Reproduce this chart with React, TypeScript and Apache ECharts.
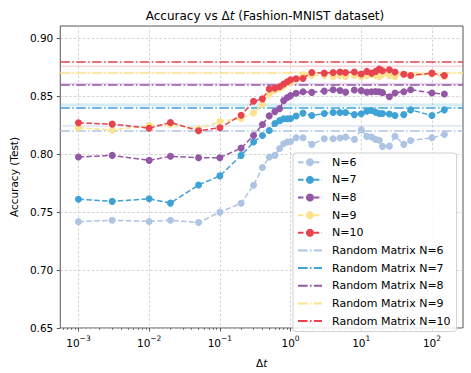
import React, { useEffect, useRef } from "react";
import * as echarts from "echarts";

const xValues = [0.001, 0.003, 0.01, 0.02, 0.05, 0.1, 0.2, 0.3, 0.4, 0.5, 0.6, 0.7, 0.8, 0.9, 1, 1.2, 1.5, 2, 3, 4, 5, 6, 8, 10, 12, 14, 16, 18, 20, 25, 30, 40, 50, 100, 150];

const accN6 = [0.7418, 0.743, 0.742, 0.743, 0.741, 0.75, 0.7577, 0.7733, 0.7885, 0.7976, 0.799, 0.805, 0.809, 0.8105, 0.811, 0.8142, 0.8142, 0.8085, 0.8134, 0.8134, 0.814, 0.8148, 0.8128, 0.8211, 0.8154, 0.8148, 0.8128, 0.812, 0.8068, 0.807, 0.8156, 0.8085, 0.8119, 0.8142, 0.8171];
const accN7 = [0.7612, 0.7593, 0.7615, 0.7578, 0.7735, 0.7813, 0.799, 0.8105, 0.8162, 0.8205, 0.8265, 0.829, 0.8306, 0.8306, 0.8308, 0.833, 0.8355, 0.8334, 0.8351, 0.836, 0.836, 0.836, 0.8342, 0.8349, 0.8371, 0.8377, 0.8362, 0.8351, 0.8351, 0.8347, 0.8334, 0.8342, 0.8383, 0.8334, 0.8383];
const accN8 = [0.7976, 0.799, 0.7947, 0.7982, 0.797, 0.797, 0.8053, 0.8162, 0.8257, 0.8331, 0.8368, 0.8394, 0.8463, 0.8489, 0.8506, 0.8527, 0.854, 0.8534, 0.8545, 0.8557, 0.855, 0.8536, 0.8555, 0.8549, 0.8536, 0.854, 0.8542, 0.854, 0.8532, 0.8497, 0.8529, 0.854, 0.8557, 0.8529, 0.852];
const accN9 = [0.8228, 0.821, 0.8247, 0.8257, 0.822, 0.8282, 0.8308, 0.8357, 0.843, 0.852, 0.855, 0.857, 0.859, 0.862, 0.862, 0.865, 0.8685, 0.868, 0.868, 0.867, 0.868, 0.867, 0.868, 0.867, 0.868, 0.869, 0.868, 0.867, 0.869, 0.868, 0.867, 0.869, 0.868, 0.869, 0.867];
const accN10 = [0.8271, 0.826, 0.8225, 0.8274, 0.8203, 0.8228, 0.8337, 0.8457, 0.8478, 0.8563, 0.857, 0.8583, 0.8606, 0.8626, 0.8643, 0.8652, 0.8654, 0.8706, 0.87, 0.8705, 0.871, 0.8706, 0.871, 0.8692, 0.8715, 0.87, 0.8715, 0.8735, 0.872, 0.873, 0.871, 0.869, 0.868, 0.87, 0.868];

const seriesNames = ["N=6", "N=7", "N=8", "N=9", "N=10"];
const randomNames = ["Random Matrix N=6", "Random Matrix N=7", "Random Matrix N=8", "Random Matrix N=9", "Random Matrix N=10"];
const randomMean = [0.8245, 0.8426, 0.8606, 0.8703, 0.876];
const randomStd = [0.0009, 0.0013, 0.0011, 0.0009, 0.0007];

const xMajorTicks = [0.001, 0.01, 0.1, 1, 10, 100];
const xMinorTicks = [0.0006, 0.0007, 0.0008, 0.0009, 0.002, 0.003, 0.004, 0.005, 0.006, 0.007, 0.008, 0.009, 0.02, 0.03, 0.04, 0.05, 0.06, 0.07, 0.08, 0.09, 0.2, 0.3, 0.4, 0.5, 0.6, 0.7, 0.8, 0.9, 2, 3, 4, 5, 6, 7, 8, 9, 20, 30, 40, 50, 60, 70, 80, 90, 200];
const yTicks = [0.65, 0.7, 0.75, 0.8, 0.85, 0.9];

const colors = ["#adc4e2", "#3fa2d6", "#9457a6", "#fde18c", "#e8434f"];
const bandColors = ["rgba(173,196,226,0.3)", "rgba(63,162,214,0.22)", "rgba(148,87,166,0.22)", "rgba(253,225,140,0.3)", "rgba(232,67,79,0.22)"];

const allAcc = [accN6, accN7, accN8, accN9, accN10];

const FONT = "DejaVu Sans";
const X_MIN = 0.000553;
const X_MAX = 275;
const Y_MIN = 0.65;
const Y_MAX = 0.9107;

const supMap: Record<string, string> = { "-": "−" };

function xLabel(v: number) {
  const e = Math.log10(v);
  const r = Math.round(e);
  if (Math.abs(e - r) > 1e-6) return "";
  const s = String(r).split("").map((c) => supMap[c] || c).join("");
  return `{b|10}{s|${s}}`;
}

export default function App() {
  const ref = useRef<HTMLDivElement>(null);
  useEffect(() => {
    if (!ref.current) return;
    const chart = echarts.init(ref.current, null, { renderer: "svg" });
    const dataSeries = seriesNames.map((name, i) => ({
      name,
      type: "line",
      xAxisIndex: 0,
      data: xValues.map((x, j) => [x, allAcc[i][j]]),
      symbol: "circle",
      symbolSize: 7,
      showSymbol: true,
      z: 3 + i,
      lineStyle: { color: colors[i], width: 1.5, type: [5.5, 2.4] },
      itemStyle: { color: colors[i], borderWidth: 0 },
      emphasis: { disabled: true },
    }));
    const randomSeries = randomNames.map((name, i) => ({
      name,
      type: "line",
      xAxisIndex: 0,
      data: [],
      symbol: "none",
      z: 2,
      lineStyle: { color: colors[i], width: 1.5, type: [9.6, 2.4, 1.5, 2.4] },
      itemStyle: { color: colors[i], opacity: 0 },
      markLine: {
        silent: true,
        symbol: ["none", "none"],
        label: { show: false },
        lineStyle: { color: colors[i], width: 1.5, type: [9.6, 2.4, 1.5, 2.4], opacity: 1 },
        data: [{ yAxis: randomMean[i] }],
        z: 2,
      },
      markArea: {
        silent: true,
        itemStyle: { color: bandColors[i], opacity: 1 },
        data: [[{ yAxis: randomMean[i] - randomStd[i] }, { yAxis: randomMean[i] + randomStd[i] }]],
      },
    }));
    chart.setOption({
      animation: false,
      title: {
        text: "{n|Accuracy vs Δ}{i|t}{n| (Fashion-MNIST dataset)}",
        left: 260,
        textAlign: "center",
        top: 5,
        textStyle: {
          fontWeight: "normal",
          rich: {
            n: { fontFamily: FONT, fontSize: 12, fontWeight: "normal", color: "#000" },
            i: { fontFamily: FONT, fontSize: 12, fontWeight: "normal", fontStyle: "italic", color: "#000" },
          },
        },
      },
      grid: {
        left: 57,
        right: 8,
        top: 26,
        bottom: 44.5,
        show: true,
        borderColor: "#555",
        borderWidth: 1,
        backgroundColor: "transparent",
      },
      legend: {
        orient: "vertical",
        left: 293,
        top: 153,
        data: [
          ...seriesNames,
          ...randomNames.map((n) => ({ name: n, itemStyle: { opacity: 0 } })),
        ],
        itemWidth: 24,
        itemHeight: 10,
        itemGap: 6.65,
        padding: [3.7, 6, 5, 4],
        backgroundColor: "rgba(255,255,255,0.85)",
        borderColor: "#d0d0d0",
        borderWidth: 1,
        borderRadius: 3,
        textStyle: { fontFamily: FONT, fontSize: 11, color: "#000", padding: [0, 0, 0, 5] },
        selectedMode: false,
      },
      xAxis: [
        {
          type: "log",
          logBase: 10,
          min: X_MIN,
          max: X_MAX,
          name: "{n|Δ}{i|t}",
          nameLocation: "middle",
          nameGap: 29,
          nameTextStyle: {
            rich: {
              n: { fontFamily: FONT, fontSize: 10.5, color: "#000" },
              i: { fontFamily: FONT, fontSize: 10.5, fontStyle: "italic", color: "#000" },
            },
          },
          axisLine: { show: false },
          axisTick: { show: true, length: 3.5, customValues: xMajorTicks, lineStyle: { color: "#333", width: 0.8 } },
          axisLabel: {
            customValues: xMajorTicks,
            formatter: (v: number) => xLabel(v),
            margin: 6,
            rich: {
              b: { fontFamily: FONT, fontSize: 10.5, color: "#000", verticalAlign: "bottom", lineHeight: 14 },
              s: { fontFamily: FONT, fontSize: 7.5, color: "#000", verticalAlign: "top", lineHeight: 14, padding: [0, 0, 6, 0] },
            },
          },
          splitLine: { show: true, lineStyle: { color: "#c8c8c8", width: 0.8, type: [2.5, 2] } },
        },
        {
          type: "log",
          logBase: 10,
          min: X_MIN,
          max: X_MAX,
          position: "bottom",
          axisLine: { show: false },
          axisTick: { show: true, length: 2, customValues: xMinorTicks, lineStyle: { color: "#333", width: 0.6 } },
          axisLabel: { show: false },
          splitLine: { show: false },
        },
      ],
      yAxis: {
        type: "value",
        min: Y_MIN,
        max: Y_MAX,
        name: "Accuracy (Test)",
        nameLocation: "middle",
        nameGap: 40,
        nameTextStyle: { fontFamily: FONT, fontSize: 10.5, color: "#000" },
        axisLine: { show: false },
        axisTick: { show: true, length: 3.5, customValues: yTicks, lineStyle: { color: "#333", width: 0.8 } },
        axisLabel: {
          customValues: yTicks,
          formatter: (v: number) => v.toFixed(2),
          fontFamily: FONT,
          fontSize: 10.5,
          color: "#000",
          margin: 7,
        },
        splitLine: { show: true, lineStyle: { color: "#c8c8c8", width: 0.8, type: [2.5, 2] } },
      },
      series: [...randomSeries, ...dataSeries],
    });
    return () => chart.dispose();
  }, []);
  return <div ref={ref} style={{ width: 471, height: 373, position: "absolute", left: 0, top: 0 }} />;
}
